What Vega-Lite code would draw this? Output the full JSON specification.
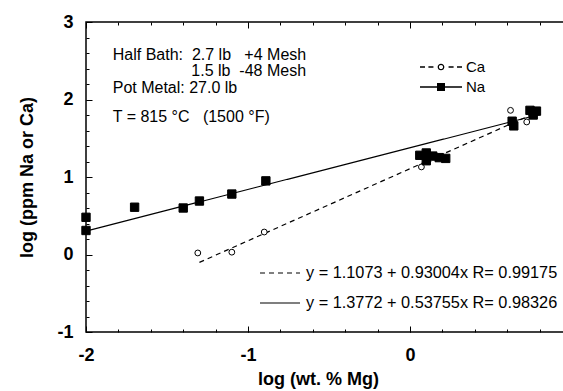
{
  "$schema": "https://vega.github.io/schema/vega-lite/v6.json",
  "width": 478,
  "height": 310,
  "autosize": "none",
  "padding": {"left": 86, "top": 22, "right": 0, "bottom": 59},
  "background": "white",
  "resolve": {"axis": {"x": "independent", "y": "independent"}},
  "config": {
    "view": {"stroke": "black", "strokeWidth": 1.5},
    "font": "Liberation Sans",
    "axis": {
      "domain": false,
      "grid": false,
      "labelFlush": false,
      "ticks": true,
      "tickColor": "black",
      "tickOpacity": 1,
      "tickWidth": 1,
      "labelColor": "black",
      "labelFont": "Liberation Sans",
      "labelFontWeight": "bold",
      "labelFontSize": 18,
      "titleColor": "black",
      "titleFont": "Liberation Sans",
      "titleFontWeight": "bold",
      "titleFontSize": 18
    },
    "legend": {
      "labelFont": "Liberation Sans",
      "labelColor": "black",
      "labelLimit": 0,
      "padding": 0,
      "rowPadding": 0
    }
  },
  "layer": [
    {
      "data": {
        "values": [
          {"fit": "Ca", "x": -1.3, "y": -0.1018},
          {"fit": "Ca", "x": 0.75, "y": 1.8048},
          {"fit": "Na", "x": -2.0, "y": 0.3021},
          {"fit": "Na", "x": 0.8, "y": 1.8072}
        ]
      },
      "mark": {"type": "line", "color": "black", "strokeWidth": 1.2},
      "encoding": {
        "x": {
          "field": "x",
          "type": "quantitative",
          "scale": {"domain": [-2, 0.95], "nice": false, "zero": false},
          "axis": {
            "orient": "top",
            "title": null,
            "labels": false,
            "ticks": true,
            "tickColor": "black",
            "tickOpacity": 1,
            "tickWidth": 1,
            "tickSize": 3,
            "offset": -3,
            "values": [-2, -1.8, -1.6, -1.4, -1.2, -1, -0.8, -0.6, -0.4, -0.2, 0, 0.2, 0.4, 0.6, 0.8]
          }
        },
        "y": {
          "field": "y",
          "type": "quantitative",
          "scale": {"domain": [-1, 3], "nice": false, "zero": false},
          "axis": {
            "orient": "left",
            "title": "log (ppm Na or Ca)",
            "titlePadding": 20,
            "labelPadding": 13,
            "ticks": true,
            "tickColor": "black",
            "tickOpacity": 1,
            "tickWidth": 1,
            "tickSize": 3,
            "offset": -3,
            "values": [-1, -0.8, -0.6, -0.4, -0.2, 0, 0.2, 0.4, 0.6, 0.8, 1, 1.2, 1.4, 1.6, 1.8, 2, 2.2, 2.4, 2.6, 2.8, 3],
            "labelExpr": "abs(datum.value - round(datum.value)) < 0.001 ? toString(round(datum.value)) : ''"
          }
        },
        "strokeDash": {
          "field": "fit",
          "type": "nominal",
          "scale": {"range": [[5, 4], [1, 0]]},
          "legend": {
            "orient": "none",
            "legendX": 173,
            "legendY": 236,
            "title": null,
            "symbolType": "stroke",
            "symbolSize": 1600,
            "symbolStrokeWidth": 1.2,
            "symbolStrokeColor": "black",
            "clipHeight": 30,
            "labelFontSize": 16.3,
            "labelOffset": 5,
            "labelExpr": "datum.value === 'Ca' ? 'y = 1.1073 + 0.93004x R= 0.99175' : 'y = 1.3772 + 0.53755x R= 0.98326'"
          }
        }
      }
    },
    {
      "data": {
        "name": "measured",
        "values": [
          {"series": "Ca", "x": -1.31, "y": 0.02},
          {"series": "Ca", "x": -1.1, "y": 0.03},
          {"series": "Ca", "x": -0.9, "y": 0.29},
          {"series": "Ca", "x": 0.07, "y": 1.13},
          {"series": "Ca", "x": 0.11, "y": 1.2},
          {"series": "Ca", "x": 0.62, "y": 1.86},
          {"series": "Ca", "x": 0.72, "y": 1.71},
          {"series": "Na", "x": -2.0, "y": 0.48},
          {"series": "Na", "x": -2.0, "y": 0.31},
          {"series": "Na", "x": -1.7, "y": 0.61},
          {"series": "Na", "x": -1.4, "y": 0.6},
          {"series": "Na", "x": -1.3, "y": 0.69},
          {"series": "Na", "x": -1.1, "y": 0.78},
          {"series": "Na", "x": -0.89, "y": 0.95},
          {"series": "Na", "x": 0.06, "y": 1.28},
          {"series": "Na", "x": 0.1, "y": 1.31},
          {"series": "Na", "x": 0.14, "y": 1.27},
          {"series": "Na", "x": 0.1, "y": 1.21},
          {"series": "Na", "x": 0.18, "y": 1.25},
          {"series": "Na", "x": 0.22, "y": 1.24},
          {"series": "Na", "x": 0.63, "y": 1.72},
          {"series": "Na", "x": 0.64, "y": 1.66},
          {"series": "Na", "x": 0.74, "y": 1.86},
          {"series": "Na", "x": 0.78, "y": 1.85},
          {"series": "Na", "x": 0.76, "y": 1.8}
        ]
      },
      "mark": {"type": "point", "stroke": "black", "strokeWidth": 1, "opacity": 1},
      "encoding": {
        "x": {
          "field": "x",
          "type": "quantitative",
          "axis": {
            "orient": "bottom",
            "title": "log (wt. % Mg)",
            "titleX": 232,
            "titlePadding": 6,
            "labelPadding": 14,
            "ticks": true,
            "tickColor": "black",
            "tickOpacity": 1,
            "tickWidth": 1,
            "tickSize": 3,
            "offset": -3,
            "values": [-2, -1.8, -1.6, -1.4, -1.2, -1, -0.8, -0.6, -0.4, -0.2, 0, 0.2, 0.4, 0.6, 0.8],
            "labelExpr": "abs(datum.value - round(datum.value)) < 0.001 ? toString(round(datum.value)) : ''"
          }
        },
        "y": {
          "field": "y",
          "type": "quantitative",
          "axis": {
            "orient": "left",
            "title": null,
            "labels": false,
            "ticks": true,
            "tickColor": "black",
            "tickOpacity": 1,
            "tickWidth": 1,
            "tickSize": 6,
            "offset": -6,
            "values": [-1, 0, 1, 2, 3]
          }
        },
        "shape": {
          "condition": {"test": "datum.series === 'Ca'", "value": "circle"},
          "value": "square"
        },
        "fill": {
          "condition": {"test": "datum.series === 'Ca'", "value": "white"},
          "value": "black"
        },
        "size": {
          "condition": {"test": "datum.series === 'Ca'", "value": 34},
          "value": 70
        }
      }
    },
    {
      "data": {"name": "measured"},
      "mark": {"type": "point", "filled": true, "color": "black", "opacity": 0},
      "encoding": {
        "x": {
          "field": "x",
          "type": "quantitative",
          "axis": {
            "orient": "bottom",
            "title": null,
            "labels": false,
            "ticks": true,
            "tickColor": "black",
            "tickOpacity": 1,
            "tickWidth": 1,
            "tickSize": 6,
            "offset": -6,
            "values": [-2, -1, 0]
          }
        },
        "y": {"field": "y", "type": "quantitative", "axis": null},
        "shape": {
          "field": "series",
          "type": "nominal",
          "scale": {
            "domain": ["Ca", "Na"],
            "range": [
              "M-1,-0.03H-0.76V0.03H-1Z M-0.6,-0.03H-0.36V0.03H-0.6Z M0.36,-0.03H0.6V0.03H0.36Z M0.76,-0.03H1V0.03H0.76Z M0.16,0A0.16,0.16,0,1,1,-0.16,0A0.16,0.16,0,1,1,0.16,0Z M0.1,0A0.1,0.1,0,1,0,-0.1,0A0.1,0.1,0,1,0,0.1,0Z",
              "M-1,-0.03H1V0.03H-1Z M-0.19,-0.19H0.19V0.19H-0.19Z"
            ]
          },
          "legend": {
            "orient": "none",
            "legendX": 334,
            "legendY": 35,
            "title": null,
            "symbolSize": 1764,
            "symbolOpacity": 1,
            "symbolFillColor": "black",
            "symbolStrokeWidth": 0,
            "clipHeight": 20,
            "labelFontSize": 15,
            "labelOffset": 4
          }
        }
      }
    },
    {
      "data": {"values": [{"note": "Half Bath:\u00a0\u00a02.7 lb\u00a0\u00a0\u00a0+4 Mesh"}]},
      "mark": {"type": "text", "align": "left", "baseline": "middle", "fontSize": 16, "color": "black"},
      "encoding": {
        "x": {
          "datum": -1.835,
          "type": "quantitative",
          "axis": {
            "orient": "top",
            "title": null,
            "labels": false,
            "ticks": true,
            "tickColor": "black",
            "tickOpacity": 1,
            "tickWidth": 1,
            "tickSize": 6,
            "offset": -6,
            "values": [-2, -1, 0]
          }
        },
        "y": {"datum": 2.58, "type": "quantitative", "axis": null},
        "text": {"field": "note"}
      }
    },
    {
      "data": {"values": [{"note": "1.5 lb\u00a0\u00a0-48 Mesh"}]},
      "mark": {"type": "text", "align": "left", "baseline": "middle", "fontSize": 16, "color": "black"},
      "encoding": {
        "x": {"datum": -1.35, "type": "quantitative", "axis": null},
        "y": {"datum": 2.37, "type": "quantitative", "axis": null},
        "text": {"field": "note"}
      }
    },
    {
      "data": {"values": [{"note": "Pot Metal: 27.0 lb"}]},
      "mark": {"type": "text", "align": "left", "baseline": "middle", "fontSize": 16, "color": "black"},
      "encoding": {
        "x": {"datum": -1.835, "type": "quantitative", "axis": null},
        "y": {"datum": 2.15, "type": "quantitative", "axis": null},
        "text": {"field": "note"}
      }
    },
    {
      "data": {"values": [{"note": "T = 815 °C\u00a0\u00a0\u00a0(1500 °F)"}]},
      "mark": {"type": "text", "align": "left", "baseline": "middle", "fontSize": 16, "color": "black"},
      "encoding": {
        "x": {"datum": -1.835, "type": "quantitative", "axis": null},
        "y": {"datum": 1.775, "type": "quantitative", "axis": null},
        "text": {"field": "note"}
      }
    }
  ]
}
